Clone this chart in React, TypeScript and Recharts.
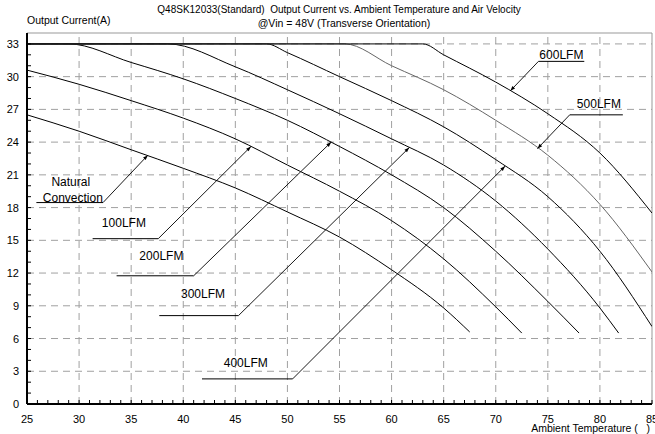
import React from 'react';
import {
  LineChart,
  Line,
  XAxis,
  YAxis,
  ReferenceLine,
  ReferenceDot,
} from 'recharts';

// temperature (C) -> output current (A)
const natural = [[25, 26.5], [30, 25.0], [35, 23.3], [40, 21.6], [45, 19.8], [50, 17.6], [55, 15.3], [60, 12.3], [65, 8.8], [67.5, 6.6]];
const lfm100 = [[25, 30.6], [30, 29.3], [35, 27.8], [40, 26.2], [45, 24.3], [50, 21.9], [55, 19.5], [60, 16.8], [65, 13.3], [70, 8.9], [72.5, 6.5]];
const lfm200 = [[25, 33], [29, 33], [35, 31.3], [40, 29.8], [45, 28.0], [50, 26.0], [55, 23.6], [60, 21.0], [65, 18.0], [70, 14.0], [75, 9.4], [78, 6.5]];
const lfm300 = [[25, 33], [38.5, 33], [45, 30.9], [50, 28.8], [55, 26.6], [60, 24.3], [65, 21.9], [70, 18.6], [75, 14.2], [80, 8.8], [81.8, 6.5]];
const lfm400 = [[25, 33], [48, 33], [50, 32.2], [55, 30.0], [60, 27.8], [65, 25.4], [70, 22.4], [75, 19.0], [80, 14.0], [85, 7.1]];
const lfm500 = [[25, 33], [55.5, 33], [60, 31.0], [65, 28.8], [70, 26.0], [75, 22.8], [80, 18.3], [85, 12.1]];
const lfm600 = [[25, 33], [63, 33], [65, 32.0], [70, 29.5], [75, 26.6], [80, 23.0], [85, 17.5]];

const xMajor = [25, 30, 35, 40, 45, 50, 55, 60, 65, 70, 75, 80, 85];
const yMajor = [0, 3, 6, 9, 12, 15, 18, 21, 24, 27, 30, 33];
const xMinor = Array.from({ length: 61 }, (_, i) => 25 + i);
const yMinor = Array.from({ length: 34 }, (_, i) => i);

const series = [
  { name: 'Natural Convection', pts: natural, color: '#000', w: 1 },
  { name: '100LFM', pts: lfm100, color: '#000', w: 1 },
  { name: '200LFM', pts: lfm200, color: '#000', w: 1 },
  { name: '300LFM', pts: lfm300, color: '#000', w: 1 },
  { name: '400LFM', pts: lfm400, color: '#000', w: 1 },
  { name: '500LFM', pts: lfm500, color: '#666', w: 1 },
  { name: '600LFM', pts: lfm600, color: '#000', w: 1 },
];

// callouts in data units: text centres, underline, leader start -> arrow tip
const callouts = [
  { text: [['Natural', 29.2, 20.3], ['Convection', 29.4, 18.85]], rule: [25.9, 32.3, 18.46], from: [32.3, 18.46], tip: [36.6, 22.8] },
  { text: [['100LFM', 34.3, 16.6]], rule: [31.3, 37.6, 15.15], from: [37.6, 15.15], tip: [46.5, 23.6] },
  { text: [['200LFM', 37.9, 13.6]], rule: [33.6, 41.0, 11.75], from: [41.0, 11.75], tip: [54.2, 24.0] },
  { text: [['300LFM', 41.9, 10.1]], rule: [37.7, 45.3, 8.1], from: [45.3, 8.1], tip: [61.7, 23.5] },
  { text: [['400LFM', 46.0, 3.8]], rule: [41.8, 50.5, 2.3], from: [50.5, 2.3], tip: [70.9, 21.8] },
  { text: [['500LFM', 79.9, 27.5]], rule: [77.1, 82.2, 26.5], from: [77.1, 26.5], tip: [74.0, 23.4] },
  { text: [['600LFM', 76.3, 32.0]], rule: [74.1, 78.5, 31.4], from: [74.1, 31.4], tip: [71.4, 28.7] },
];

const FONT = '"Liberation Sans", Arial, sans-serif';

const XTick = (props: any) => {
  const { x, y, payload } = props;
  const v = payload.value;
  return (
    <g>
      <line x1={x} y1={y} x2={x} y2={y - 4} stroke="#000" strokeWidth={1} />
      {v % 5 === 0 && (
        <text x={x} y={y + 19} textAnchor="middle" fontSize={11} fill="#000" fontFamily={FONT}>{v}</text>
      )}
    </g>
  );
};

const YTick = (props: any) => {
  const { x, y, payload } = props;
  const v = payload.value;
  return (
    <g>
      <line x1={x} y1={y} x2={x + 4} y2={y} stroke="#000" strokeWidth={1} />
      {v % 3 === 0 && (
        <text x={x - 8} y={y + 4} textAnchor="end" fontSize={11} fill="#000" fontFamily={FONT}>{v}</text>
      )}
    </g>
  );
};

const arrowLine = (props: any) => {
  const { x1, y1, x2, y2 } = props;
  const dx = x2 - x1;
  const dy = y2 - y1;
  const len = Math.sqrt(dx * dx + dy * dy) || 1;
  const ux = dx / len;
  const uy = dy / len;
  const bx = x2 - ux * 5;
  const by = y2 - uy * 5;
  const px = -uy * 1.8;
  const py = ux * 1.8;
  return (
    <g>
      <line x1={x1} y1={y1} x2={x2} y2={y2} stroke="#000" strokeWidth={0.9} />
      <polygon points={`${x2},${y2} ${bx + px},${by + py} ${bx - px},${by - py}`} fill="#000" />
    </g>
  );
};

const plainLine = (props: any) => {
  const { x1, y1, x2, y2 } = props;
  return <line x1={x1} y1={y1} x2={x2} y2={y2} stroke="#000" strokeWidth={1} />;
};

export default function App() {
  return (
    <div style={{ position: 'absolute', left: 0, top: 0, width: 655, height: 434, background: '#fff', fontFamily: FONT }}>
      <div style={{ position: 'absolute', left: 0, width: 678, top: 3, textAlign: 'center', fontSize: 10, lineHeight: '13px' }}>
        Q48SK12033(Standard)&nbsp; Output Current vs. Ambient Temperature and Air Velocity
      </div>
      <div style={{ position: 'absolute', left: 0, width: 688, top: 17, textAlign: 'center', fontSize: 10.5, lineHeight: '13px' }}>
        @Vin = 48V (Transverse Orientation)
      </div>
      <div style={{ position: 'absolute', left: 27, top: 14, fontSize: 10.5, lineHeight: '13px' }}>
        Output Current(A)
      </div>
      <div style={{ position: 'absolute', right: 5, top: 422, fontSize: 10.5, lineHeight: '12px' }}>
        Ambient Temperature (&nbsp;&nbsp;&nbsp;)
      </div>
      <LineChart width={655} height={434} margin={{ top: 33, right: 3, bottom: 0, left: 0 }}>
        <XAxis
          type="number"
          dataKey="x"
          domain={[25, 85]}
          ticks={xMinor}
          interval={0}
          tickSize={0}
          tickMargin={0}
          tickLine={false}
          tick={<XTick />}
          axisLine={{ stroke: '#000', strokeWidth: 2 }}
          height={30}
          allowDataOverflow
        />
        <YAxis
          type="number"
          domain={[0, 34]}
          ticks={yMinor}
          interval={0}
          tickSize={0}
          tickMargin={0}
          tickLine={false}
          tick={<YTick />}
          axisLine={{ stroke: '#000', strokeWidth: 2 }}
          width={27}
          allowDataOverflow
        />
        {xMajor.slice(1, -1).map((v) => (
          <ReferenceLine key={`gx${v}`} x={v} stroke="#a0a0a0" strokeDasharray="7 5" strokeWidth={1} />
        ))}
        {yMajor.slice(1).map((v) => (
          <ReferenceLine key={`gy${v}`} y={v} stroke="#a0a0a0" strokeDasharray="7 5" strokeWidth={1} />
        ))}
        <ReferenceLine y={34} stroke="#999" strokeWidth={1} />
        <ReferenceLine x={85} stroke="#999" strokeWidth={1} />
        {series.map((s) => (
          <Line
            key={s.name}
            name={s.name}
            data={s.pts.map(([x, y]) => ({ x, y }))}
            dataKey="y"
            type="monotoneX"
            stroke={s.color}
            strokeWidth={s.w}
            dot={false}
            activeDot={false}
            isAnimationActive={false}
          />
        ))}
        {callouts.map((c, i) => (
          <ReferenceLine
            key={`r${i}`}
            segment={[{ x: c.rule[0], y: c.rule[2] }, { x: c.rule[1], y: c.rule[2] }]}
            ifOverflow="visible"
            shape={plainLine}
          />
        ))}
        {callouts.map((c, i) => (
          <ReferenceLine
            key={`a${i}`}
            segment={[{ x: c.from[0], y: c.from[1] }, { x: c.tip[0], y: c.tip[1] }]}
            ifOverflow="visible"
            shape={arrowLine}
          />
        ))}
        {callouts.flatMap((c, i) =>
          c.text.map(([label, tx, ty], j) => (
            <ReferenceDot
              key={`t${i}-${j}`}
              x={tx as number}
              y={ty as number}
              r={0}
              ifOverflow="visible"
              shape={(p: any) => (
                <text x={p.cx} y={p.cy + 4} textAnchor="middle" fontSize={12} fill="#000" fontFamily={FONT}>
                  {label}
                </text>
              )}
            />
          ))
        )}
      </LineChart>
    </div>
  );
}
